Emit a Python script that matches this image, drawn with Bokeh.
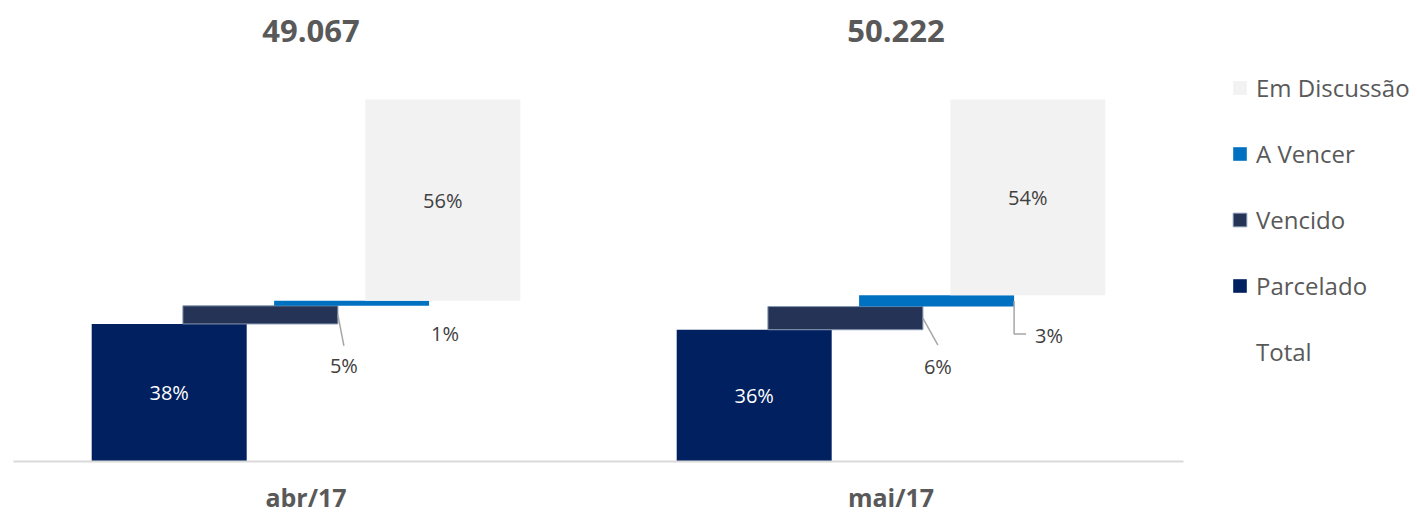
from bokeh.plotting import figure
from bokeh.models import Range1d, Legend, LegendItem, ColumnDataSource, FixedTicker
from bokeh.core.properties import value
from bokeh.embed import file_html
from bokeh.resources import INLINE

# ---------------- data ----------------
categories = ["abr/17", "mai/17"]
parcelado = [38.0, 36.4]
vencido = [5.0, 6.4]
a_vencer = [1.4, 3.1]
em_discussao = [55.6, 54.1]
totals = [49067, 50222]

series_names = ["Parcelado", "Vencido", "A Vencer", "Em Discussão"]
series_values = [parcelado, vencido, a_vencer, em_discussao]
colors = ["#002060", "#253356", "#0070C0", "#F2F2F2"]
line_colors = [None, "#8497B0", None, None]

# ---------------- layout ----------------
FONT = "Open Sans"
PX_PER_CAT = 585.0
LEFT = 13
TOP = 8
FRAME_W = 1404
FRAME_H = 453
FULL_PAGE = 99
BAR_W = 155 / PX_PER_CAT
BAR_STEP = 91.2 / PX_PER_CAT
n = len(categories)
y_top = 100.0 * FRAME_H / (FRAME_H - (FULL_PAGE - TOP))
PX_Y = y_top / FRAME_H
PX_X = 1.0 / PX_PER_CAT

p = figure(frame_width=FRAME_W, frame_height=FRAME_H,
           x_range=Range1d(0, FRAME_W / PX_PER_CAT), y_range=Range1d(0, y_top),
           output_backend="svg", toolbar_location=None, y_axis_location=None,
           min_border_left=LEFT, min_border_right=0, min_border_top=TOP, min_border_bottom=0,
           outline_line_color=None, background_fill_color="white")
p.xgrid.visible = False
p.ygrid.visible = False

ax = p.xaxis[0]
ax.ticker = FixedTicker(ticks=[i + 0.5 for i in range(n)])
ax.major_label_overrides = {i + 0.5: c for i, c in enumerate(categories)}
ax.bounds = (0, n)
ax.axis_line_color = "#D9D9D9"
ax.axis_line_width = 2
ax.major_tick_line_color = None
ax.minor_tick_line_color = None
ax.major_label_text_font = FONT
ax.major_label_text_font_size = "25px"
ax.major_label_text_font_style = "bold"
ax.major_label_text_color = "#595959"
ax.major_label_standoff = 12

# bars
renderers = []
bottoms = [0.0] * n
bar_geo = []
for j, (name, vals) in enumerate(zip(series_names, series_values)):
    xs = [i + 0.5 + (j - 1.5) * BAR_STEP for i in range(n)]
    tops = [b + v for b, v in zip(bottoms, vals)]
    src = ColumnDataSource(dict(x=xs, bottom=list(bottoms), top=tops))
    r = p.vbar(x="x", bottom="bottom", top="top", width=BAR_W, source=src,
               fill_color=colors[j], line_color=line_colors[j], line_width=1)
    renderers.append(r)
    bar_geo.append((xs, list(bottoms), tops, vals))
    bottoms = tops

def pct(v):
    return f"{round(v):.0f}%"

# inside labels
for j, tcolor in [(0, "white"), (3, "#404040")]:
    xs, bots, tops, vals = bar_geo[j]
    p.text(x=xs, y=[(b + t) / 2 for b, t in zip(bots, tops)], text=[pct(v) for v in vals],
           text_align="center", text_baseline="middle", text_color=tcolor,
           text_font=value(FONT), text_font_size="20px")

# outside labels: (dx, dy) of label centre from bar's right edge / mid height, in px (dy downward)
outside = {
    1: [dict(dx=6, dy=51, leader=[(0, 0), (6, 31)]),
        dict(dx=15, dy=48, leader=[(0, 0), (15, 27)])],
    2: [dict(dx=16, dy=30, leader=None),
        dict(dx=35, dy=35, leader=[(0, 0), (0, 33), (12, 33)])],
}
lx, ly, lt, mxs, mys = [], [], [], [], []
for j, cfgs in outside.items():
    xs, bots, tops, vals = bar_geo[j]
    for i, cfg in enumerate(cfgs):
        ax_x = xs[i] + BAR_W / 2
        ax_y = (bots[i] + tops[i]) / 2
        lx.append(ax_x + cfg["dx"] * PX_X)
        ly.append(ax_y - cfg["dy"] * PX_Y)
        lt.append(pct(vals[i]))
        if cfg["leader"]:
            mxs.append([ax_x + dx * PX_X for dx, dy in cfg["leader"]])
            mys.append([ax_y - dy * PX_Y for dx, dy in cfg["leader"]])
p.multi_line(xs=mxs, ys=mys, line_color="#A6A6A6", line_width=1.5)
p.text(x=lx, y=ly, text=lt, text_align="center", text_baseline="middle",
       text_color="#404040", text_font=value(FONT), text_font_size="20px")

# totals above stacks
stack_tops = bar_geo[-1][2]
p.text(x=[i + 0.5 for i in range(n)], y=stack_tops,
       text=[f"{t:,}".replace(",", ".") for t in totals],
       x_offset=5, y_offset=-69, text_align="center", text_baseline="middle",
       text_color="#595959", text_font=value(FONT), text_font_size="31px",
       text_font_style="bold")
r_total = p.vbar(x=[i + 0.5 for i in range(n)], top=stack_tops, width=0.0,
                 fill_alpha=0, line_alpha=0)

items = [LegendItem(label=series_names[3], renderers=[renderers[3]]),
         LegendItem(label=series_names[2], renderers=[renderers[2]]),
         LegendItem(label=series_names[1], renderers=[renderers[1]]),
         LegendItem(label=series_names[0], renderers=[renderers[0]]),
         LegendItem(label="Total", renderers=[r_total])]
legend = Legend(items=items, location=(1218, 93), padding=0, margin=0,
                border_line_color=None, background_fill_alpha=0,
                glyph_width=17, glyph_height=17, label_standoff=8,
                label_height=34, spacing=32,
                label_text_font=FONT, label_text_font_size="24px",
                label_text_color="#595959")
p.add_layout(legend)

open("out.html", "w").write(file_html(p, INLINE))
